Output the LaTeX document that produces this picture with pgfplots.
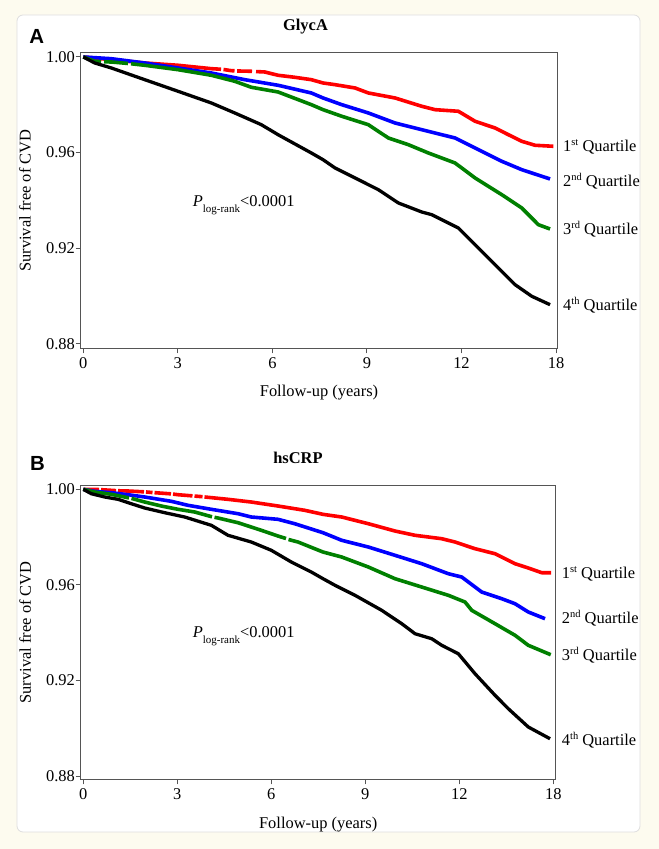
\documentclass[border=0pt]{standalone}
\usepackage{fontspec}
\setmainfont{Liberation Serif}
\newfontfamily\sanslab{Liberation Sans}
\usepackage{pgfplots}
\pgfplotsset{compat=1.18}
\definecolor{cream}{RGB}{253,251,239}
\definecolor{qred}{RGB}{255,0,0}
\definecolor{qblue}{RGB}{0,0,255}
\definecolor{qgreen}{RGB}{0,128,0}
\definecolor{axgray}{RGB}{85,85,85}
\definecolor{panelborder}{RGB}{222,222,222}
\newcommand{\sups}[1]{\raisebox{6bp}{\fontsize{10.5}{12}\selectfont #1}}
\newcommand{\plr}{\textit{P}\raisebox{-5.5bp}{\fontsize{11}{13}\selectfont log-rank}<0.0001}
\pgfplotsset{
  km/.style={
    scale only axis, anchor=south west,
    xtick={0,3,6,9,12,15}, xticklabels={0,3,6,9,12,18},
    ytick={0.88,0.92,0.96,1.00}, yticklabels={0.88,0.92,0.96,1.00},
    tick align=outside, xtick pos=bottom, ytick pos=left,
    major tick length=5bp,
    axis line style={axgray, line width=1bp},
    every tick/.style={axgray, line width=1bp},
    /pgf/number format/assume math mode=true,
    tick label style={font=\fontsize{16.5}{19.8}\selectfont},
    yticklabel style={inner sep=0.7bp},
    xticklabel style={inner sep=4.5bp},
    label style={font=\fontsize{16.5}{19.8}\selectfont},
    xlabel={Follow-up (years)}, ylabel={Survival free of CVD},
    unbounded coords=jump, no markers,
    every axis plot/.append style={line width=3.6bp, line join=round},
  }
}
\begin{document}%
\begin{tikzpicture}[x=1bp,y=1bp,font=\fontsize{16.5}{19.8}\selectfont]
\fill[cream] (0,0) rectangle (659,849);
\filldraw[fill=white,draw=panelborder,line width=0.8bp,rounded corners=6bp] (17,17) rectangle (640,834);

% ---------------- Panel A ----------------
\begin{axis}[km,
  at={(80.7bp,500.7bp)}, width=476.6bp, height=295.3bp,
  xmin=-0.083, xmax=15.041, ymin=0.87820, ymax=1.00167,
  xlabel style={at={(axis description cs:0.5,-0.1649)}, anchor=base},
  ylabel style={at={(axis description cs:-0.1169,0.5)}, anchor=center},
]
\addplot[qred] coordinates {
(0,1.0000) (0.889,0.99887) (1.949,0.99749) (3.005,0.99653) (4.062,0.99511)
(4.370,0.99486) (4.40,nan) (4.449,0.99477) (4.697,0.99427) (4.798,0.99423) (4.83,nan)
(4.878,0.99415) (5.332,0.99402) (5.354,0.99400) (5.40,nan) (5.481,0.99390) (5.757,0.99373)
(6.179,0.99235) (6.709,0.99151) (7.236,0.99051) (7.607,0.98913) (7.988,0.98842)
(8.623,0.98704) (9.045,0.98495) (9.892,0.98286) (10.739,0.97939) (11.162,0.97797)
(11.901,0.97730) (12.431,0.97312) (13.066,0.97031) (13.488,0.96751) (13.913,0.96475)
(14.335,0.96308) (14.916,0.96266)
};
\addplot[qblue] coordinates {
(0,1.0000) (0.879,0.99929) (1.949,0.99749) (3.005,0.99540) (4.062,0.99331)
(5.122,0.99051) (6.179,0.98817) (7.236,0.98495) (7.607,0.98286) (8.201,0.98006)
(9.045,0.97659) (9.892,0.97240) (10.739,0.96960) (11.796,0.96613) (12.431,0.96195)
(13.278,0.95639) (13.913,0.95288) (14.811,0.94899)
};
\addplot[qgreen] coordinates {
(0,1.0000) (0.362,0.99820) (0.562,0.99803) (0.60,nan) (0.657,0.99795) (0.889,0.99791)
(1.419,0.99728) (1.46,nan) (1.514,0.99716) (1.949,0.99653) (3.005,0.99469)
(4.062,0.99235) (4.805,0.98984) (5.332,0.98733) (6.179,0.98537) (7.236,0.98006)
(7.607,0.97797) (8.201,0.97521) (9.045,0.97169) (9.680,0.96613) (10.314,0.96333)
(10.949,0.95986) (11.796,0.95568) (12.431,0.94941) (13.278,0.94243) (13.913,0.93687)
(14.440,0.92988) (14.811,0.92808)
};
\addplot[black, line width=3.3bp] coordinates {
(0,1.0000) (0.362,0.99749) (0.889,0.99540) (1.949,0.99051) (3.005,0.98566)
(4.062,0.98077) (4.805,0.97659) (5.649,0.97169) (6.179,0.96751) (7.236,0.95986)
(7.607,0.95706) (7.988,0.95359) (8.623,0.94941) (9.362,0.94452) (9.997,0.93896)
(10.739,0.93519) (11.057,0.93406) (11.374,0.93197) (11.901,0.92850) (12.536,0.92014)
(13.170,0.91178) (13.700,0.90480) (14.230,0.89995) (14.811,0.89643)
};
\end{axis}

% ---------------- Panel B ----------------
\begin{axis}[km,
  at={(80.7bp,69.7bp)}, width=475bp, height=293.8bp,
  xmin=-0.083, xmax=15.077, ymin=0.87862, ymax=1.0016,
  xlabel style={at={(axis description cs:0.5,-0.1658)}, anchor=base},
  ylabel style={at={(axis description cs:-0.1169,0.5)}, anchor=center},
]
\addplot[qred] coordinates {
(0,1.0000) (0.501,0.99990) (0.53,nan) (0.565,0.99985) (1.044,0.99945) (1.07,nan)
(1.108,0.99940) (1.427,0.99929) (1.937,0.99895) (1.97,nan) (2.001,0.99890)
(2.209,0.99865) (2.24,nan) (2.273,0.99860) (2.799,0.99810) (2.83,nan) (2.863,0.99800)
(3.023,0.99774) (3.485,0.99725) (3.52,nan) (3.549,0.99718) (3.805,0.99690) (3.84,nan)
(3.868,0.99680) (4.619,0.99581) (5.362,0.99468) (6.214,0.99301) (7.067,0.99121)
(7.651,0.98953) (8.248,0.98841) (9.097,0.98560) (9.949,0.98254) (10.587,0.98075)
(11.440,0.97932) (11.864,0.97794) (12.502,0.97514) (13.141,0.97304) (13.779,0.96886)
(14.203,0.96706) (14.631,0.96509) (14.928,0.96509)
};
\addplot[qblue] coordinates {
(0,1.0000) (0.364,0.99916) (0.894,0.99858) (1.427,0.99774) (1.960,0.99678)
(2.809,0.99498) (3.342,0.99330) (4.086,0.99163) (4.938,0.98979) (5.362,0.98841)
(6.214,0.98744) (6.748,0.98560) (7.651,0.98183) (8.248,0.97865) (9.097,0.97585)
(9.949,0.97237) (10.801,0.96886) (11.650,0.96467) (12.078,0.96329) (12.716,0.95701)
(13.355,0.95421) (13.779,0.95211) (14.203,0.94864) (14.737,0.94584)
};
\addplot[qgreen] coordinates {
(0,1.0000) (0.364,0.99887) (0.894,0.99791) (1.427,0.99648) (1.459,0.99640) (1.50,nan)
(1.538,0.99620) (1.960,0.99468) (2.490,0.99301) (3.023,0.99163) (3.556,0.99050)
(4.108,0.98849) (4.15,nan) (4.188,0.98828) (4.299,0.98799) (4.938,0.98602)
(5.681,0.98284) (6.214,0.98045) (6.470,0.97941) (6.51,nan) (6.550,0.97899)
(6.853,0.97794) (7.651,0.97375) (8.248,0.97166) (9.097,0.96748) (9.949,0.96258)
(10.801,0.95910) (11.650,0.95563) (12.183,0.95283) (12.397,0.94935) (13.141,0.94374)
(13.779,0.93889) (14.203,0.93470) (14.918,0.93077)
};
\addplot[black, line width=3.3bp] coordinates {
(0,1.0000) (0.255,0.99816) (0.683,0.99678) (1.108,0.99581) (1.532,0.99397)
(1.960,0.99217) (2.598,0.99021) (3.236,0.98841) (4.086,0.98493) (4.619,0.98075)
(5.362,0.97794) (6.001,0.97447) (6.639,0.96957) (7.277,0.96538) (7.651,0.96258)
(8.034,0.95982) (8.672,0.95563) (9.524,0.94935) (10.163,0.94374) (10.587,0.93956)
(11.120,0.93746) (11.440,0.93470) (11.969,0.93118) (12.502,0.92281) (13.141,0.91377)
(13.565,0.90816) (14.203,0.90050) (14.896,0.89560)
};
\end{axis}

% ---------------- texts ----------------
\node[anchor=base west, inner sep=0, font=\sanslab\bfseries\fontsize{20.5}{24}\selectfont] at (29.3,805.7) {A};
\node[anchor=base west, inner sep=0, font=\sanslab\bfseries\fontsize{20.5}{24}\selectfont] at (30,378.3) {B};
\node[anchor=base, inner sep=0, font=\bfseries\fontsize{16.5}{19.8}\selectfont] at (305.5,818) {GlycA};
\node[anchor=base, inner sep=0, font=\bfseries\fontsize{16.5}{19.8}\selectfont] at (298,385) {hsCRP};
\node[anchor=base west, inner sep=0] at (192.7,642.3) {\plr};
\node[anchor=base west, inner sep=0] at (192.7,211) {\plr};
% quartile labels A
\node[anchor=base west, inner sep=0] at (563,697) {1\sups{st} Quartile};
\node[anchor=base west, inner sep=0] at (563,662) {2\sups{nd} Quartile};
\node[anchor=base west, inner sep=0] at (563,614.4) {3\sups{rd} Quartile};
\node[anchor=base west, inner sep=0] at (563,538.7) {4\sups{th} Quartile};
% quartile labels B
\node[anchor=base west, inner sep=0] at (561.7,270) {1\sups{st} Quartile};
\node[anchor=base west, inner sep=0] at (561.7,225) {2\sups{nd} Quartile};
\node[anchor=base west, inner sep=0] at (561.7,188.4) {3\sups{rd} Quartile};
\node[anchor=base west, inner sep=0] at (561.7,103.4) {4\sups{th} Quartile};
\end{tikzpicture}%
\end{document}
